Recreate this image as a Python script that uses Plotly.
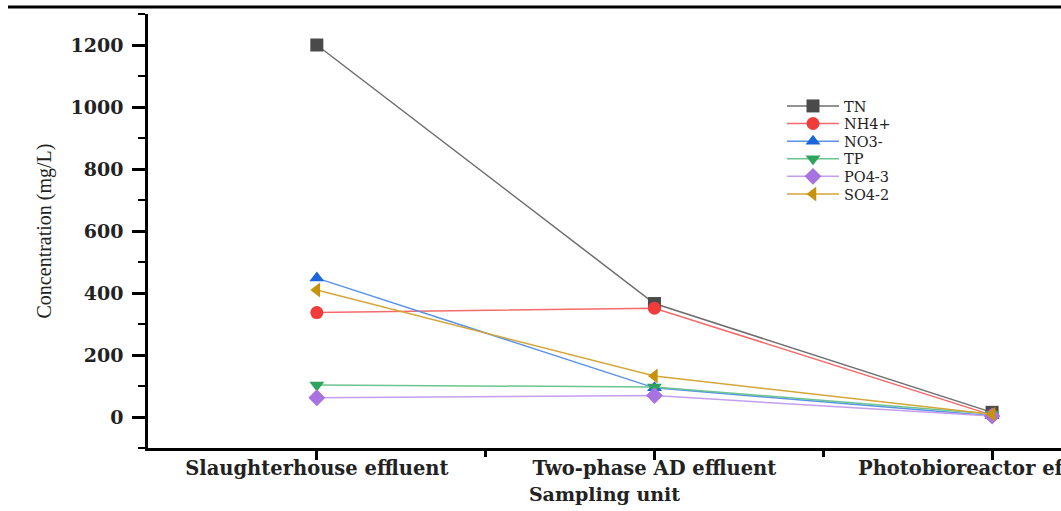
import plotly.graph_objects as go

categories = ["Slaughterhouse effluent", "Two-phase AD effluent", "Photobioreactor effluent"]
series_names = ["TN", "NH4+", "NO3-", "TP", "PO4-3", "SO4-2"]
tn = [1200, 366, 15]
nh4 = [337, 351, 6]
no3 = [448, 94, 4]
tp = [103, 97, 10]
po4 = [62, 69, 3]
so4 = [410, 132, 9]
y_ticks = [0, 200, 400, 600, 800, 1000, 1200]

values = [tn, nh4, no3, tp, po4, so4]
colors = ["#4a4a4a", "#f23b3b", "#1a66dd", "#2ea35e", "#a872e0", "#c8930c"]
line_colors = ["#6e6e6e", "#f56a6a", "#5a92ea", "#6cc490", "#c49ff0", "#d4a63a"]
symbols = ["square", "circle", "triangle-up", "triangle-down", "diamond", "triangle-left"]

x_idx = list(range(len(categories)))

W, H = 1061, 511
ml, mr, mt, mb = 148, 0, 14, 63
pw = W - ml - mr
ph = H - mt - mb

legend_ids = ["legend"] + [f"legend{i}" for i in range(2, len(series_names) + 1)]

fig = go.Figure()
for name, vals, c, lc, s, lid in zip(series_names, values, colors, line_colors, symbols, legend_ids):
    fig.add_trace(go.Scatter(
        x=x_idx, y=vals, name=name, mode="lines+markers",
        line=dict(color=lc, width=1.5),
        marker=dict(symbol=s, color=c, size=13, line=dict(width=0)),
        legend=lid,
    ))

legend_top_px = 106
legend_step_px = 17.6
legend_layout = {}
for i, lid in enumerate(legend_ids):
    ypx = legend_top_px + i * legend_step_px
    legend_layout[lid] = dict(
        x=(782 - ml) / pw, y=1 - (ypx - mt) / ph, xanchor="left", yanchor="middle",
        font=dict(family="DejaVu Serif", size=14.5, color="#222"),
        bgcolor="rgba(0,0,0,0)", itemwidth=52,
    )

fig.update_layout(
    width=W, height=H,
    margin=dict(l=ml, r=mr, t=mt, b=mb, autoexpand=False),
    plot_bgcolor="white", paper_bgcolor="white",
    showlegend=True,
    **legend_layout,
    xaxis=dict(
        range=[-0.5, 2 + (W - 992) / 338], tickmode="array", tickvals=x_idx, ticktext=categories,
        showgrid=False, zeroline=False, showline=True, linecolor="black", linewidth=2.5,
        ticks="outside", ticklen=9, tickwidth=2.5, tickcolor="black",
        tickfont=dict(family="DejaVu Serif", size=19.5, color="#222", weight="bold"),
        ticklabeloverflow="allow", ticklabelstandoff=-8,
        minor=dict(tickvals=[0.5, 1.5], ticks="outside", ticklen=6, tickwidth=2.5, tickcolor="black"),
        title=dict(text="<b>Sampling unit</b>", font=dict(family="DejaVu Serif", size=19, color="#222"), standoff=9),
        automargin=False, fixedrange=True,
    ),
    yaxis=dict(
        range=[-100, 1300], tickmode="array", tickvals=y_ticks,
        showgrid=False, zeroline=False, showline=True, linecolor="black", linewidth=2.5,
        ticks="outside", ticklen=13, tickwidth=2.5, tickcolor="black",
        tickfont=dict(family="DejaVu Serif", size=19, color="#222", weight="bold"),
        ticklabelstandoff=5,
        minor=dict(dtick=100, tick0=0, ticks="outside", ticklen=7, tickwidth=2, tickcolor="black"),
        title=dict(text="Concentration (mg/L)", font=dict(family="Liberation Serif", size=20, color="#222"), standoff=14),
        automargin=False, fixedrange=True,
    ),
)

fig.add_shape(type="line", xref="paper", yref="paper",
              x0=(8 - ml) / pw, x1=1.0, y0=1 + 7 / ph, y1=1 + 7 / ph,
              line=dict(color="black", width=3))

fig.write_html("out.html")
